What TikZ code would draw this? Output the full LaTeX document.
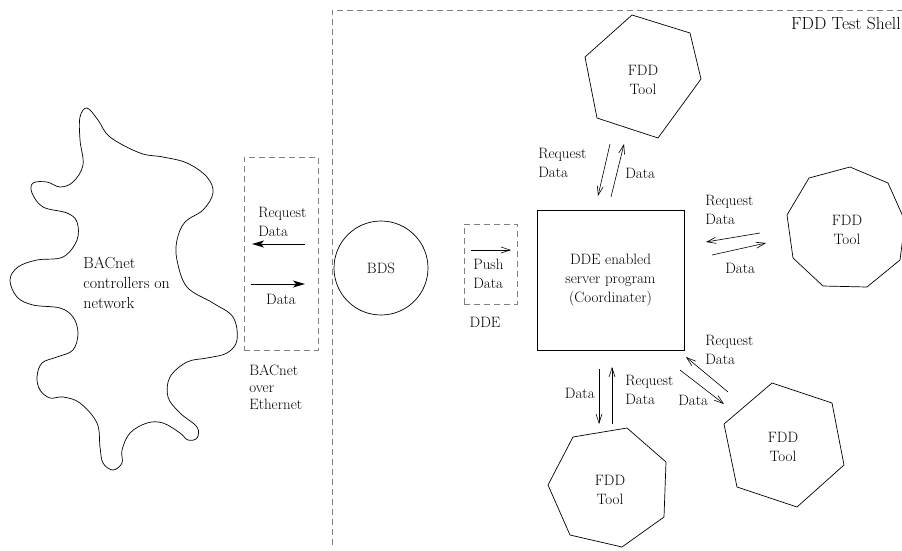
\documentclass[tikz,border=0pt]{standalone}
\usetikzlibrary{arrows.meta}

\tikzset{
  lbl/.style={font=\fontsize{15}{19}\selectfont, inner sep=0pt, align=left},
  dashbox/.style={draw=gray, dash pattern=on 6pt off 4pt},
  stick/.style={-{Straight Barb[length=9pt,width=6pt]}, line width=0.6pt},
  solid arrow/.style={-{Stealth[length=12pt,width=7pt,inset=3pt]}, line width=1pt},
}

\begin{document}
\begin{tikzpicture}[x=1pt,y=-1pt,line width=0.7pt]
  \useasboundingbox (0,0) rectangle (902,550);

  % test shell border
  \draw [dashbox] (332,545) -- (332,10) -- (902,10);
  \node [lbl, font=\fontsize{17.5}{20}\selectfont, anchor=east] (shell) at (901,24) {FDD Test Shell};

  % BACnet network cloud
  \draw plot [smooth cycle, tension=0.6] coordinates {
    (87,108) (98,120) (110,137) (140,153) (163,157) (187,163) (207,177)
    (213,193) (203,210) (185,222) (177,240) (177,260) (187,287) (213,303)
    (233,317) (237,340) (227,353) (207,358) (187,362) (170,377) (168,397)
    (180,413) (197,427) (197,438) (188,440) (180,433) (163,423) (147,423)
    (130,433) (122,450) (122,463) (113,470) (103,463) (100,447) (97,423)
    (80,403) (63,397) (50,398) (40,390) (37,377) (42,363) (57,357)
    (73,350) (78,333) (73,317) (60,308) (33,305) (17,297) (10,280)
    (18,267) (37,260) (63,257) (77,240) (77,222) (67,213) (43,207)
    (32,193) (33,183) (47,182) (60,187) (73,182) (83,165) (80,140) (80,117)};
  \node [lbl, font=\fontsize{16}{20}\selectfont, anchor=west] (net) at (83,283) {BACnet\\controllers on\\network};

  % BACnet over Ethernet
  \node [dashbox, minimum width=74, minimum height=193] (eth) at (281,253.5) {};
  \node [lbl, anchor=west] (ethreq) at (258,222) {Request\\Data};
  \coordinate (ethreqA) at (305,244);
  \coordinate (ethreqB) at (252,244);
  \draw [solid arrow] (ethreqA) -- (ethreqB);
  \coordinate (ethdatA) at (251,284);
  \coordinate (ethdatB) at (305,284);
  \draw [solid arrow] (ethdatA) -- (ethdatB);
  \node [lbl] (ethdat) at (281,299) {Data};
  \node [lbl, anchor=west] (ethlbl) at (249,387) {BACnet\\[-2pt]over\\[-2pt]Ethernet};

  % BDS
  \node [draw, circle, minimum size=94, lbl] (bds) at (381,268) {BDS};

  % DDE link
  \node [dashbox, minimum width=53, minimum height=80] (dde) at (490.5,264) {};
  \coordinate (pushA) at (471,250);
  \coordinate (pushB) at (511,250);
  \draw [stick] (pushA) -- (pushB);
  \node [lbl, anchor=west] (push) at (473,274) {Push\\Data};
  \node [lbl] (ddelbl) at (485,322) {DDE};

  % coordinator
  \node [draw, minimum width=147, minimum height=140, lbl, align=center]
    (coord) at (610.5,280) {DDE enabled\\server program\\(Coordinater)};

  % FDD tools
  \draw (632,15) -- (690,33) -- (701,79) -- (658,138) -- (597,118) -- (585,57) -- cycle;
  \node [lbl, align=center] (tool1) at (643,80) {FDD\\Tool};
  \draw (850,167) -- (888,183) -- (905,221) -- (900,260) -- (867,287) -- (823,286)
    -- (793,258) -- (787,215) -- (809,178) -- cycle;
  \node [lbl, align=center] (tool2) at (847,230) {FDD\\Tool};
  \draw (772,383) -- (832,403) -- (844,465) -- (797,507) -- (737,487) -- (724,424) -- cycle;
  \node [lbl, align=center] (tool3) at (783,447) {FDD\\Tool};
  \draw (627,428) -- (666,462) -- (664,517) -- (622,547) -- (570,535) -- (548,485)
    -- (573,437) -- cycle;
  \node [lbl, align=center] (tool4) at (610,490) {FDD\\Tool};

  % coordinator <-> tool 1
  \coordinate (t1reqA) at (610,144);
  \coordinate (t1reqB) at (598,196);
  \coordinate (t1datA) at (611,197);
  \coordinate (t1datB) at (624,144);
  \draw [stick] (t1reqA) -- (t1reqB);
  \draw [stick] (t1datA) -- (t1datB);
  \node [lbl, anchor=west] (t1req) at (538,163) {Request\\Data};
  \node [lbl, anchor=west] (t1dat) at (625,173) {Data};

  % coordinator <-> tool 2
  \coordinate (t2reqA) at (760,233);
  \coordinate (t2reqB) at (706,242);
  \coordinate (t2datA) at (712,255);
  \coordinate (t2datB) at (766,243);
  \draw [stick] (t2reqA) -- (t2reqB);
  \draw [stick] (t2datA) -- (t2datB);
  \node [lbl, anchor=west] (t2req) at (705,210) {Request\\Data};
  \node [lbl, anchor=west] (t2dat) at (725,268) {Data};

  % coordinator <-> tool 3
  \coordinate (t3reqA) at (728,392);
  \coordinate (t3reqB) at (686,357);
  \coordinate (t3datA) at (680,370);
  \coordinate (t3datB) at (724,404);
  \draw [stick] (t3reqA) -- (t3reqB);
  \draw [stick] (t3datA) -- (t3datB);
  \node [lbl, anchor=west] (t3req) at (705,350) {Request\\Data};
  \node [lbl, anchor=west] (t3dat) at (678,400) {Data};

  % coordinator <-> tool 4
  \coordinate (t4datA) at (599,369);
  \coordinate (t4datB) at (599,424);
  \coordinate (t4reqA) at (612,424);
  \coordinate (t4reqB) at (612,367);
  \draw [stick] (t4datA) -- (t4datB);
  \draw [stick] (t4reqA) -- (t4reqB);
  \node [lbl, anchor=east] (t4dat) at (595,393) {Data};
  \node [lbl, anchor=west] (t4req) at (625,390) {Request\\Data};
\end{tikzpicture}
\end{document}
